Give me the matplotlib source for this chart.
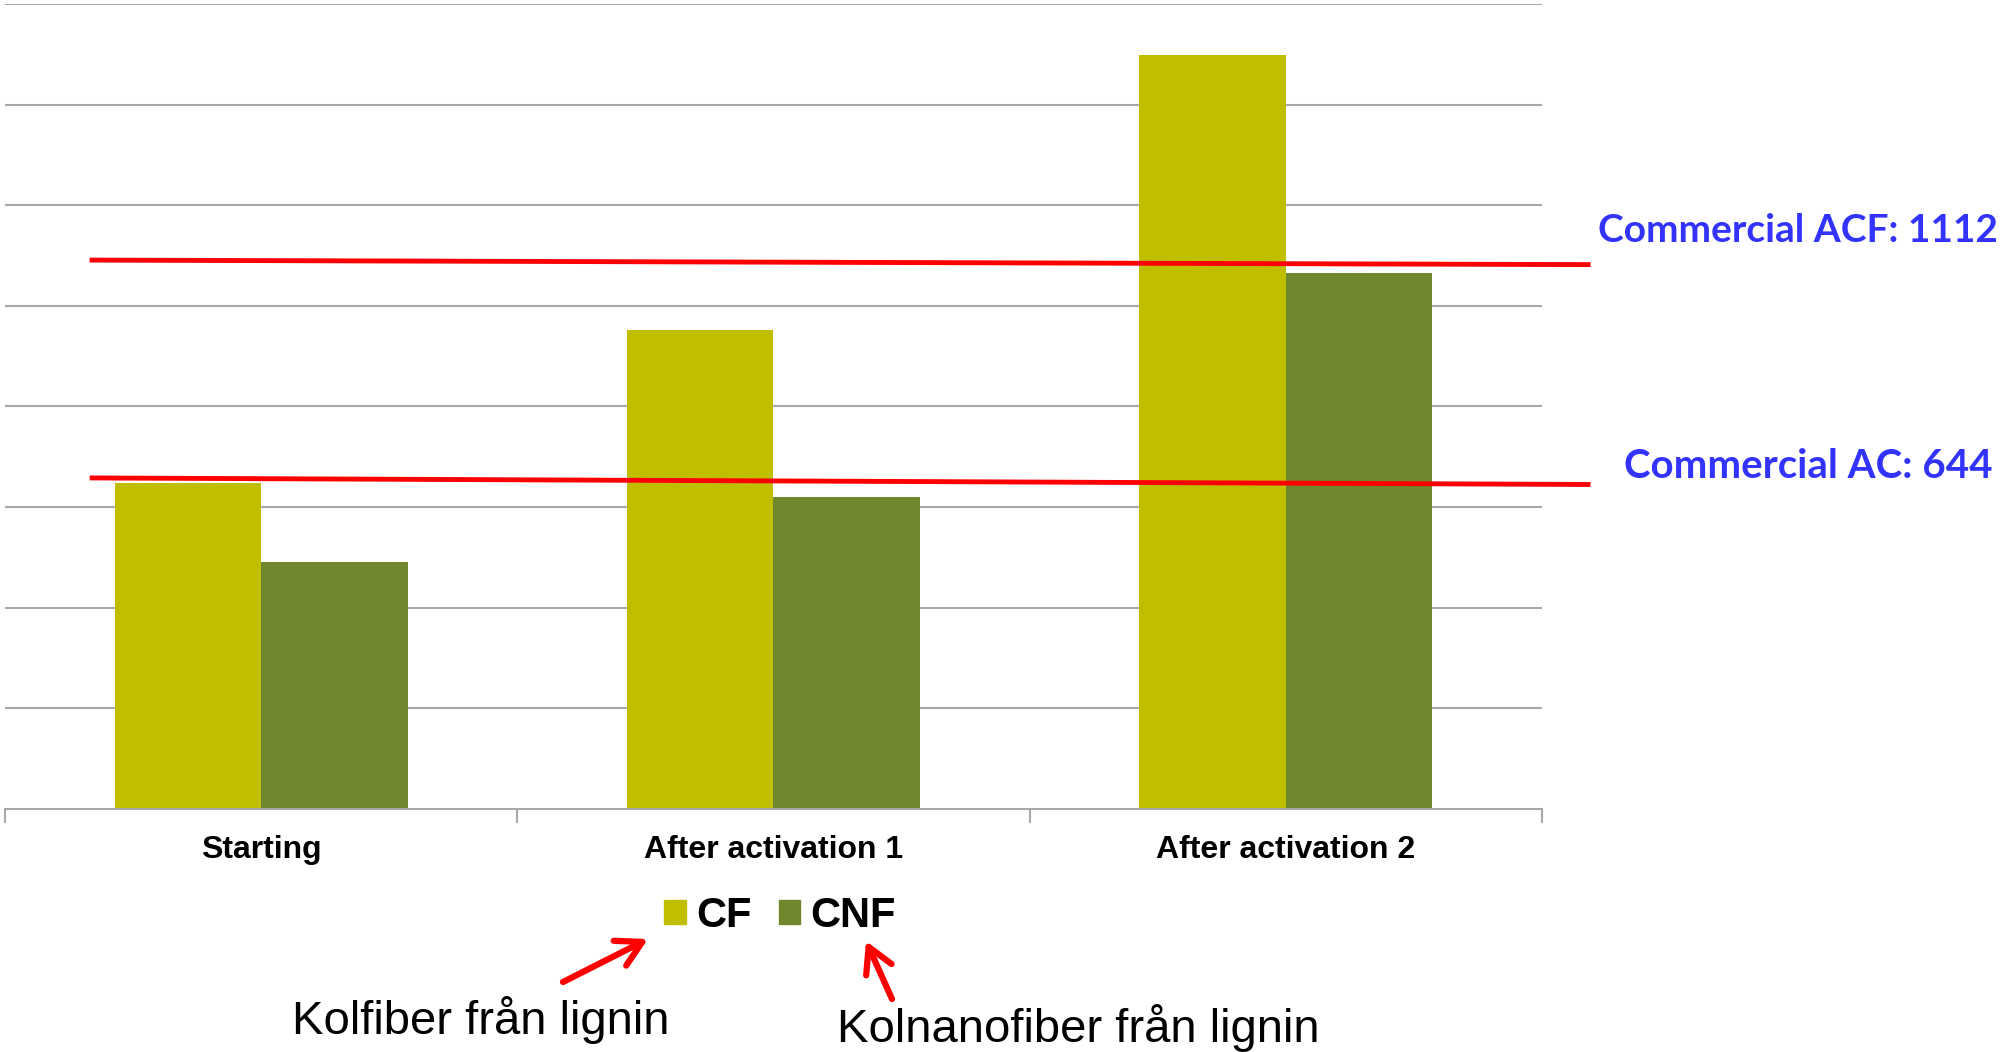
import matplotlib
matplotlib.use("Agg")
import matplotlib.pyplot as plt
from matplotlib.patches import Patch
import numpy as np

# values
categories = ["Starting", "After activation 1", "After activation 2"]
cf_values = [648, 953, 1499]
cnf_values = [491, 620, 1066]
series_names = ["CF", "CNF"]

# hand-drawn reference lines (slightly sloped in the original)
ref_x = [-0.33, 2.59]
acf_line = [1091, 1082]
ac_line = [658, 645]
acf_label = "Commercial ACF: 1112"
ac_label = "Commercial AC: 644"

cf_note = "Kolfiber från lignin"
cnf_note = "Kolnanofiber från lignin"

cf_color = "#BFBF00"
cnf_color = "#71872D"
grid_color = "#A8A8A8"

plt.rcParams['font.family'] = ['Liberation Sans', 'DejaVu Sans']

fig = plt.figure(figsize=(20.03, 10.52), dpi=100)
ax = fig.add_axes([5 / 2003, 1 - 809 / 1052, 1537 / 2003, 805 / 1052])

x = np.arange(len(categories))
w = 1 / 3.5
ax.bar(x - w / 2, cf_values, width=w, color=cf_color, zorder=2, label=series_names[0])
ax.bar(x + w / 2, cnf_values, width=w, color=cnf_color, zorder=2, label=series_names[1])

ax.set_xlim(-0.5, 2.5)
ax.set_ylim(0, 1600)
ax.set_yticks(np.arange(200, 1601, 200))
ax.yaxis.grid(True, color=grid_color, linewidth=1.5, zorder=0)
ax.tick_params(axis='y', left=False, labelleft=False)

ax.set_xticks(x)
ax.set_xticklabels(categories, fontsize=23, fontweight='bold')
ax.tick_params(axis='x', which='major', length=0, pad=19)
ax.set_xticks([-0.5, 0.5, 1.5, 2.5], minor=True)
ax.tick_params(axis='x', which='minor', length=10, width=1.5, color=grid_color, direction='out')

for side in ['top', 'right', 'left']:
    ax.spines[side].set_visible(False)
ax.spines['bottom'].set_color(grid_color)
ax.spines['bottom'].set_linewidth(1.5)

# red commercial reference lines
ax.plot(ref_x, acf_line, color='red', linewidth=3.5, clip_on=False, zorder=3)
ax.plot(ref_x, ac_line, color='red', linewidth=3.5, clip_on=False, zorder=3)

fig.text(1998 / 2003, 1 - 231 / 1052, acf_label, color='#3333FF', fontsize=28,
         fontweight='bold', family='Lato', ha='right', va='center')
fig.text(1993 / 2003, 1 - 467 / 1052, ac_label, color='#3333FF', fontsize=29,
         fontweight='bold', family='Lato', ha='right', va='center')

handles = [Patch(color=cf_color), Patch(color=cnf_color)]
fig.legend(handles, series_names, loc='center', bbox_to_anchor=(780 / 2003, 1 - 916 / 1052),
           ncol=2, frameon=False, handlelength=0.52, handleheight=0.52,
           handletextpad=0.25, columnspacing=0.65, borderpad=0,
           prop={'family': 'Liberation Sans', 'weight': 'bold', 'size': 30})

# annotations below the legend
fig.text(481 / 2003, 1 - 1034 / 1052, cf_note, fontsize=34, ha='center', va='baseline')
fig.text(1078 / 2003, 1 - 1042 / 1052, cnf_note, fontsize=34, ha='center', va='baseline')

arrow = dict(arrowstyle='->,head_length=0.9,head_width=0.5', color='red', lw=4.5,
             mutation_scale=20, shrinkA=0, shrinkB=0)
fig.add_artist(plt.Annotation('', xy=(648 / 2003, 1 - 939 / 1052), xycoords='figure fraction',
                              xytext=(563 / 2003, 1 - 982 / 1052), textcoords='figure fraction',
                              arrowprops=arrow))
fig.add_artist(plt.Annotation('', xy=(866 / 2003, 1 - 941 / 1052), xycoords='figure fraction',
                              xytext=(892 / 2003, 1 - 999 / 1052), textcoords='figure fraction',
                              arrowprops=arrow))

fig.savefig('out.png', dpi=100)
